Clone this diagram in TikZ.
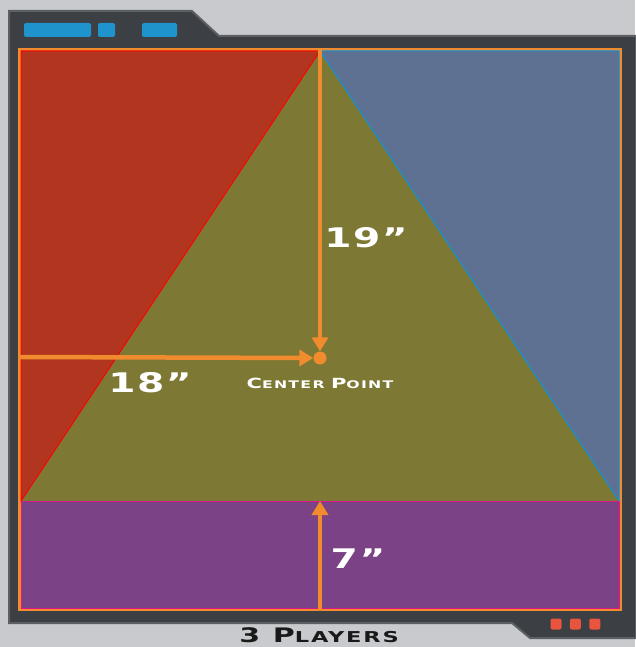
\documentclass[tikz,border=0pt]{standalone}
\usepackage{fontspec}
\newfontfamily\widefont[FakeStretch=1.45,LetterSpace=6]{DejaVu Sans}
\newfontfamily\captionfont[FakeStretch=1.5,LetterSpace=12]{DejaVu Sans}
\usetikzlibrary{arrows.meta,positioning}

\definecolor{backgray}{HTML}{C9CACE}
\definecolor{panelgray}{HTML}{3C3F43}
\definecolor{paneledge}{HTML}{5C5F63}
\definecolor{mapred}{HTML}{B2361F}
\definecolor{mapblue}{HTML}{5F7193}
\definecolor{mapolive}{HTML}{7D7833}
\definecolor{mappurple}{HTML}{7B4286}
\definecolor{arroworange}{HTML}{F08C2E}
\definecolor{ledred}{HTML}{E8553E}
\definecolor{tabblue}{HTML}{1F93CC}

\tikzset{
  measure/.style={draw=arroworange, line width=4.5pt,
    -{Triangle[length=14pt,width=16pt]}},
  measurelabel/.style={text=white, font=\widefont\bfseries\fontsize{27}{27}\selectfont},
  smallcaption/.style={text=white, font=\captionfont\bfseries},
  tab/.style={fill=tabblue, rounded corners=2pt},
  led/.style={fill=ledred, rounded corners=2pt, minimum size=11pt, inner sep=0pt}
}

\begin{document}
\begin{tikzpicture}[x=1pt,y=-1pt]
\useasboundingbox (0,0) rectangle (635,647);
\fill[backgray] (0,0) rectangle (635,647);

% panel with tab and lights
\filldraw[fill=panelgray, draw=paneledge, line width=2pt]
  (9,11) -- (192,11) -- (219,36) -- (636,36) -- (636,638)
  -- (530,638) -- (512,623) -- (9,623) -- cycle;
\fill[tab] (24,23) rectangle (91,37);
\fill[tab] (98,23) rectangle (115,37);
\fill[tab] (142,23) rectangle (177,37);
\node[led] (led1) at (556,624) {};
\node[led, right=8pt of led1] (led2) {};
\node[led, right=8pt of led2] (led3) {};

% map areas
\fill[arroworange] (18,48) rectangle (622,611);
\fill[mapolive] (21,51) rectangle (619,608);
\filldraw[fill=mapred, draw=red, line width=1pt] (21,51) -- (320,51) -- (21,501) -- cycle;
\filldraw[fill=mapblue, draw=cyan!80!blue, line width=1pt] (320,51) -- (619,51) -- (619,501) -- cycle;
\filldraw[fill=mappurple, draw=magenta!80!violet, line width=1pt] (21,501) rectangle (619,608);

% measures
\coordinate (apex) at (320,50);
\coordinate (leftend) at (20,357);
\coordinate (bottomend) at (320,609);
\coordinate (baseline) at (320,501);
\node[circle, fill=arroworange, minimum size=13pt, inner sep=0pt] (center) at (320,358) {};
\draw[measure] (apex) -- (center.north);
\draw[measure] (leftend) -- (center.west);
\draw[measure] (bottomend) -- (baseline);

\node[measurelabel] (height) at (366,238) {19”};
\node[measurelabel] (width) at (150,383) {18”};
\node[measurelabel] (band) at (358,559) {7”};
\node[smallcaption, below=10pt of center] (centerlabel)
  {{\fontsize{14}{14}\selectfont C}{\fontsize{10.5}{10.5}\selectfont ENTER}
   {\fontsize{14}{14}\selectfont P}{\fontsize{10.5}{10.5}\selectfont OINT}};
\node[smallcaption, text=black!90] (title) at (319,635)
  {{\fontsize{20}{20}\selectfont 3 P}{\fontsize{15}{15}\selectfont LAYERS}};
\end{tikzpicture}
\end{document}
